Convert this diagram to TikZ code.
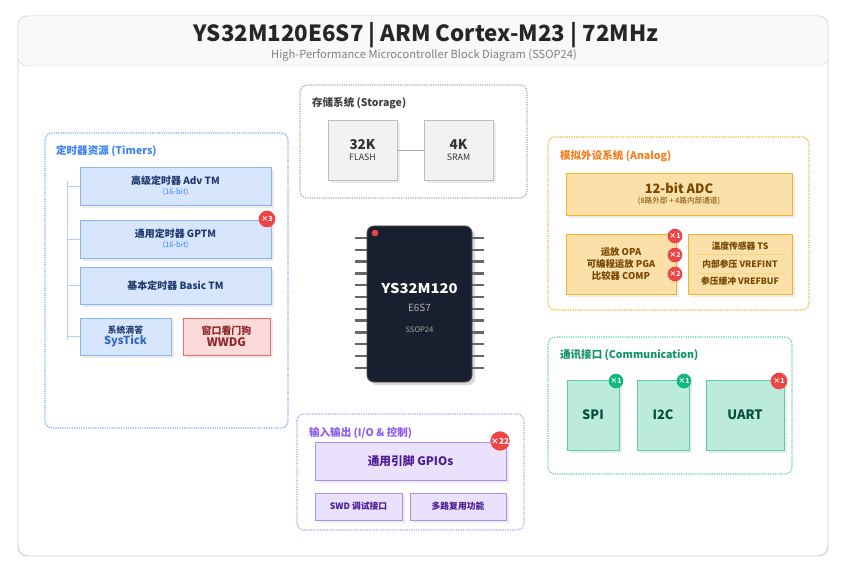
\documentclass[tikz,border=0pt]{standalone}
\usepackage{fontspec}
\setmainfont{Noto Sans CJK SC}
\usepackage{tikz}
\usetikzlibrary{positioning, shadows}
\definecolor{tmblue}{RGB}{59,130,246}
\definecolor{tmtext}{RGB}{30,58,110}
\definecolor{anorange}{RGB}{245,180,40}
\definecolor{antext}{RGB}{120,70,0}
\definecolor{cmgreen}{RGB}{16,185,129}
\definecolor{cmtext}{RGB}{6,78,59}
\definecolor{iopurple}{RGB}{139,92,246}
\definecolor{iotext}{RGB}{76,29,149}
\definecolor{badgered}{RGB}{239,68,68}
\definecolor{chipnavy}{RGB}{24,32,48}
\newcommand{\subfnt}{\fontsize{6.5}{7.5}\selectfont\mdseries}

\begin{document}
\begin{tikzpicture}[
    x=0.03cm, y=-0.03cm,
    section/.style={rounded corners=6pt, densely dotted, line width=1pt},
    sectitle/.style={anchor=west, font=\fontsize{9}{11}\selectfont\bfseries},
    tbox/.style={rectangle, draw=tmblue!60, fill=tmblue!20, thick, text=tmtext, align=center, font=\fontsize{8.5}{10}\selectfont\bfseries, drop shadow={opacity=0.15}},
    abox/.style={rectangle, draw=anorange, fill=anorange!40, thick, text=antext, align=center, font=\fontsize{8}{11}\selectfont\bfseries, drop shadow={opacity=0.15}},
    cbox/.style={rectangle, draw=cmgreen!70, fill=cmgreen!28, thick, text=cmtext, align=center, font=\fontsize{11}{13}\selectfont\bfseries, minimum height=2.1cm, drop shadow={opacity=0.15}},
    iobox/.style={rectangle, draw=iopurple!70, fill=iopurple!18, thick, text=iotext, align=center, font=\fontsize{7.5}{9}\selectfont\bfseries, drop shadow={opacity=0.15}},
    sbox/.style={rectangle, draw=gray!50, fill=gray!10, thick, text=black!80, align=center, minimum width=2.07cm, minimum height=1.8cm, drop shadow={opacity=0.15}},
    badge/.style={circle, fill=badgered, text=white, inner sep=0pt, minimum size=0.5cm, font=\fontsize{6}{7}\selectfont\bfseries},
    gbadge/.style={badge, fill=cmgreen}
]
    % Frame and header
    \useasboundingbox (0,0) rectangle (849,567);
    \draw[gray!40, thick, rounded corners=8pt, fill=white] (18,16) rectangle (828,556);
    \draw[gray!30, fill=gray!5, rounded corners=8pt] (18,16) rectangle (828,66);
    \node[font=\fontsize{19}{22}\selectfont\bfseries, text=black!85] (title) at (426,35) {YS32M120E6S7 | ARM Cortex-M23 | 72MHz};
    \node[font=\fontsize{9.5}{11}\selectfont, text=gray] (subtitle) at (424,55) {High-Performance Microcontroller Block Diagram (SSOP24)};

    % Storage
    \draw[section, gray!70] (300,85) rectangle (527,198);
    \node[sectitle, text=black!75] (sttitle) at (308,103) {存储系统 (Storage)};
    \node[sbox] (flash) at (362.5,150) {{\fontsize{11.5}{13}\selectfont\bfseries 32K}\\[-2pt]{\fontsize{7.5}{8}\selectfont FLASH}};
    \node[sbox] (sram) at (458.5,150) {{\fontsize{11.5}{13}\selectfont\bfseries 4K}\\[-2pt]{\fontsize{7.5}{8}\selectfont SRAM}};
    \draw[gray!60, thick] (flash) -- (sram);

    % Timers
    \draw[section, tmblue!70] (45,133) rectangle (288,428);
    \node[sectitle, text=tmblue] (tmtitle) at (52,151) {定时器资源 (Timers)};
    \node[tbox, minimum width=5.73cm, minimum height=1.14cm] (adv) at (175.5,186) {高级定时器 Adv TM\\[-2pt]{\subfnt\color{tmblue} (16-bit)}};
    \node[tbox, minimum width=5.73cm, minimum height=1.14cm] (gptm) at (175.5,239) {通用定时器 GPTM\\[-2pt]{\subfnt\color{tmblue} (16-bit)}};
    \node[tbox, minimum width=5.73cm, minimum height=1.11cm] (basic) at (175.5,285.5) {基本定时器 Basic TM};
    \node[tbox, minimum width=2.73cm, minimum height=1.11cm, font=\fontsize{7.5}{10}\selectfont\bfseries] (systick) at (125.5,336.5) {系统滴答\\{\fontsize{9.5}{10}\selectfont\color{tmblue!80!black} SysTick}};
    \node[tbox, draw=badgered!80, fill=badgered!20, text=badgered!60!black, minimum width=2.61cm, minimum height=1.11cm] (wwdg) at (226.5,336.5) {窗口看门狗\\{\fontsize{10}{10}\selectfont WWDG}};
    \node[badge] (b3) at (267,219) {×3};
    \coordinate (trtop) at (67,181);
    \draw[tmblue!40, thick] (trtop) -- (67,340);
    \foreach \t in {adv, gptm, basic, systick}
        \draw[tmblue!40, thick] (\t.west -| trtop) -- (\t.west);

    % Chip
    \foreach \i in {0,...,11} {
        \draw[gray!80!black, line width=2pt] (355,238+\i*11.8) -- (367,238+\i*11.8);
        \draw[gray!80!black, line width=2pt] (472,238+\i*11.8) -- (484,238+\i*11.8);
    }
    \node[rectangle, rounded corners=6pt, fill=chipnavy, draw=gray!60!black, thick, minimum width=3.15cm, minimum height=4.68cm, drop shadow={opacity=0.3}] (chip) at (419.5,304) {};
    \node[circle, fill=badgered, inner sep=0pt, minimum size=0.2cm] (pin1) at (375,233) {};
    \node[text=white, font=\fontsize{11.5}{13}\selectfont\bfseries, xscale=1.1] (chipname) at (419.5,288) {YS32M120};
    \node[text=gray!60, font=\fontsize{8.5}{10}\selectfont] (chipsuf) at (419.5,308) {E6S7};
    \node[text=gray!70, font=\fontsize{6.5}{7}\selectfont] (chippkg) at (419.5,330) {SSOP24};

    % Analog
    \draw[section, anorange] (548,137) rectangle (809,310);
    \node[sectitle, text=anorange!70!red] (antitle) at (556,156) {模拟外设系统 (Analog)};
    \node[abox, minimum width=6.78cm, minimum height=1.26cm] (adc) at (679,194) {{\fontsize{11}{12}\selectfont 12-bit ADC}\\[-2pt]{\subfnt (8路外部 + 4路内部通道)}};
    \node[abox, minimum width=3.3cm, minimum height=1.8cm, font=\fontsize{8}{10}\selectfont\bfseries] (opa) at (621,264) {运放 OPA\\可编程运放 PGA\\比较器 COMP};
    \node[abox, minimum width=3.12cm, minimum height=1.8cm, font=\fontsize{7.5}{15}\selectfont\bfseries] (ref) at (740,264) {温度传感器 TS\\内部参压 VREFINT\\参压缓冲 VREFBUF};
    \draw[anorange!60] (693,254.5) -- (787,254.5);
    \draw[anorange!60] (693,273.5) -- (787,273.5);
    \node[badge, minimum size=0.44cm] (bopa) at (675,236) {×1};
    \node[badge, minimum size=0.44cm] (bpga) at (675,255) {×2};
    \node[badge, minimum size=0.44cm] (bcmp) at (675,274) {×2};

    % Communication
    \draw[section, cmgreen!70] (548,337) rectangle (792,474);
    \node[sectitle, text=cmgreen!80!black] (cmtitle) at (556,355) {通讯接口 (Communication)};
    \node[cbox, minimum width=1.56cm] (spi) at (593,415) {SPI};
    \node[cbox, minimum width=1.56cm] (i2c) at (663,415) {I2C};
    \node[cbox, minimum width=2.34cm] (uart) at (745,415) {UART};
    \node[gbadge, minimum size=0.44cm] (bspi) at (616,381) {×1};
    \node[gbadge, minimum size=0.44cm] (bi2c) at (684,381) {×1};
    \node[badge] (buart) at (779,381) {×1};

    % I/O
    \draw[section, iopurple!60] (297,414) rectangle (524,530);
    \node[sectitle, text=iopurple] (iotitle) at (305,433) {输入输出 (I/O \& 控制)};
    \node[iobox, minimum width=5.73cm, minimum height=1.14cm, font=\fontsize{10}{11}\selectfont\bfseries] (gpio) at (410.5,461) {通用引脚 GPIOs};
    \node[iobox, minimum width=2.61cm, minimum height=0.81cm] (swd) at (358.5,506.5) {SWD 调试接口};
    \node[iobox, minimum width=2.88cm, minimum height=0.81cm] (mux) at (458,506.5) {多路复用功能};
    \node[badge, minimum size=0.58cm, font=\fontsize{7}{8}\selectfont\bfseries] (bgpio) at (500,441) {×22};
\end{tikzpicture}
\end{document}
